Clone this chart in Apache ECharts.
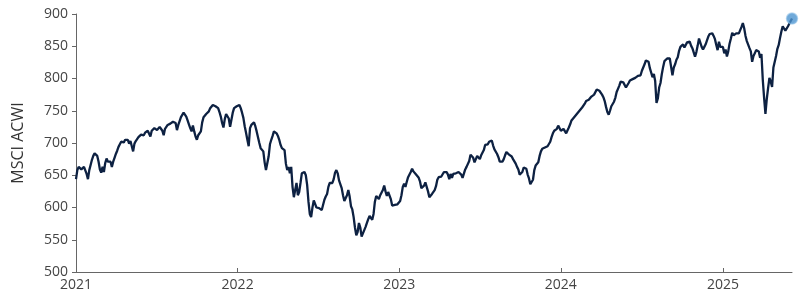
<!DOCTYPE html>
<html>
<head>
<meta charset="utf-8">
<script src="https://cdn.jsdelivr.net/npm/echarts@6/dist/echarts.min.js"></script>
<style>
html,body{margin:0;padding:0;background:#fff;}
#chart{width:800px;height:299px;}
</style>
</head>
<body>
<div id="chart"></div>
<script>
// Series: MSCI ACWI level, sampled every 3 calendar days from the start date
const startDate = [2021, 0, 1];
const stepDays = 3;
const acwiValues = [
644,658,663,661,659,661,663,660,652,644,
658,666,674,680,684,683,680,671,659,654,
663,655,669,676,671,674,671,663,671,677,
683,688,694,698,702,700,701,705,706,705,
699,703,695,687,699,703,705,709,710,713,
715,712,716,718,719,717,710,719,721,723,
722,720,723,725,728,719,712,722,724,728,
730,730,732,733,733,731,720,728,734,740,
743,747,746,741,735,729,723,718,727,718,
710,705,712,715,718,732,740,743,745,747,
749,754,757,759,757,757,759,754,748,741,
731,724,737,745,743,738,725,736,747,754,
757,757,758,759,754,747,739,726,716,705,
695,723,728,730,732,726,718,709,700,692,
690,687,670,658,659,679,698,705,711,718,
721,715,711,705,697,692,694,689,668,658,
663,653,663,632,616,627,638,619,624,638,
653,656,655,650,635,609,590,585,600,611,
609,600,599,599,597,596,597,612,617,621,
632,638,640,638,644,654,658,653,642,640,
630,619,610,607,619,627,617,602,597,585,
569,557,562,576,569,555,556,565,570,576,
582,587,585,581,590,609,618,617,613,619,
620,627,634,625,618,624,625,613,603,605,
604,602,605,604,610,619,632,637,632,640,
647,650,655,660,656,653,651,648,646,640,
630,629,634,639,636,625,616,616,621,624,
627,633,643,647,646,648,651,655,657,655,
651,644,652,646,652,651,653,651,655,657,
651,646,649,659,663,663,672,682,682,677,
670,675,680,679,675,681,680,689,697,695,
698,702,701,704,696,690,688,683,678,671,
671,671,675,681,686,685,682,683,679,675,
672,668,663,659,651,648,655,662,664,660,
651,645,636,634,643,658,665,665,670,680,
687,691,692,693,696,695,697,702,709,715,
719,719,722,727,725,719,718,722,720,715,
718,724,729,735,737,740,742,745,748,750,
752,755,757,761,765,766,767,770,772,775,
775,778,783,782,781,779,775,771,765,756,
748,744,750,757,760,764,770,779,784,789,
795,797,794,793,786,789,793,797,796,799,
802,801,803,804,803,805,812,817,822,828,
831,826,816,815,802,807,796,762,769,786,
793,807,818,827,830,831,832,831,818,805,
817,822,829,833,843,849,850,853,848,852,
856,855,857,851,847,850,834,841,851,862,
859,849,845,849,853,859,865,869,871,870,
866,861,852,844,857,849,852,849,839,845,
834,842,854,862,871,867,865,870,873,870,
875,880,886,878,866,858,855,847,842,826,
835,839,844,847,842,832,838,798,770,745,
768,785,801,795,787,817,826,835,846,852,
863,873,881,880,874,873,881,884,889,893
];
const yearLabels = ['2021', '2022', '2023', '2024', '2025'];
const yMin = 500, yMax = 900, yStep = 50;
const axisName = 'MSCI ACWI';

const DAY = 86400000;
const t0 = Date.UTC(startDate[0], startDate[1], startDate[2]);
const seriesData = acwiValues.map((v, i) => [t0 + i * stepDays * DAY, v]);
const lastPoint = seriesData[seriesData.length - 1];
const yearTicks = yearLabels.map(y => Date.UTC(+y, 0, 1));

const font = "'Open Sans', 'Noto Sans', sans-serif";
const chart = echarts.init(document.getElementById('chart'), null, {renderer: 'canvas'});
chart.setOption({
  animation: false,
  backgroundColor: '#ffffff',
  grid: {left: 76, right: 8, top: 14, bottom: 27, containLabel: false},
  xAxis: {
    type: 'value',
    min: t0,
    max: lastPoint[0],
    axisLine: {show: true, lineStyle: {color: '#666666', width: 1}},
    axisTick: {show: true, inside: true, length: 4, customValues: yearTicks, lineStyle: {color: '#666666'}},
    axisLabel: {
      customValues: yearTicks,
      formatter: v => String(new Date(v).getUTCFullYear()),
      color: '#444444', fontSize: 14, margin: 6, fontFamily: font
    },
    splitLine: {show: false}
  },
  yAxis: {
    type: 'value',
    min: yMin, max: yMax, interval: yStep,
    name: axisName,
    nameLocation: 'middle',
    nameGap: 50,
    nameTextStyle: {color: '#333333', fontSize: 16, fontFamily: font},
    axisLine: {show: true, lineStyle: {color: '#666666', width: 1}},
    axisTick: {show: true, length: 4, lineStyle: {color: '#666666'}},
    axisLabel: {color: '#444444', fontSize: 14, margin: 8, fontFamily: font},
    splitLine: {show: false}
  },
  series: [
    {
      type: 'line',
      data: seriesData,
      showSymbol: false,
      symbol: 'none',
      lineStyle: {color: '#0d2142', width: 2.3},
      clip: false,
      z: 2
    },
    {
      type: 'scatter',
      data: [lastPoint],
      symbolSize: 11,
      itemStyle: {color: '#4c93cf', borderColor: 'rgba(140,190,230,0.7)', borderWidth: 1.5},
      clip: false,
      z: 3
    }
  ]
});
</script>
</body>
</html>
